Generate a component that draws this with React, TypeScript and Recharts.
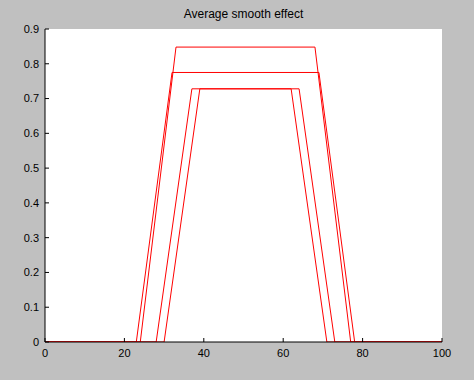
import React from "react";
import { LineChart, Line, XAxis, YAxis, CartesianGrid } from "recharts";

// corner points of each smoothed pulse (x, value)
const s1X = [0, 24, 33, 68, 77, 100];
const s1Y = [0, 0, 0.848, 0.848, 0, 0];
const s2X = [0, 23, 32, 69, 78, 100];
const s2Y = [0, 0, 0.775, 0.775, 0, 0];
const s3X = [0, 28, 37, 62, 71, 100];
const s3Y = [0, 0, 0.728, 0.728, 0, 0];
const s4X = [0, 30, 39, 64, 73, 100];
const s4Y = [0, 0, 0.728, 0.728, 0, 0];

const xTicks = [0, 20, 40, 60, 80, 100];
const yTicks = [0, 0.1, 0.2, 0.3, 0.4, 0.5, 0.6, 0.7, 0.8, 0.9];
const yTickLabels = ["0", "0.1", "0.2", "0.3", "0.4", "0.5", "0.6", "0.7", "0.8", "0.9"];

const title = "Average smooth effect";

const mk = (xs: number[], ys: number[]) => xs.map((x, i) => ({ x, y: ys[i] }));
const series = [mk(s1X, s1Y), mk(s2X, s2Y), mk(s3X, s3Y), mk(s4X, s4Y)];

const FONT = "'Liberation Sans', Arial, Helvetica, sans-serif";

const YTick = (props: any) => {
  const { x, y, payload } = props;
  const idx = yTicks.indexOf(payload.value);
  const label = idx >= 0 ? yTickLabels[idx] : String(payload.value);
  return (
    <g>
      <line x1={x + 6} x2={x + 10} y1={y} y2={y} stroke="#000" strokeWidth={1} />
      <text x={x} y={y} dy="0.35em" textAnchor="end" fontSize={11} fontFamily={FONT} fill="#000">
        {label}
      </text>
    </g>
  );
};

const XTick = (props: any) => {
  const { x, y, payload } = props;
  return (
    <g>
      <line x1={x} x2={x} y1={y - 15} y2={y - 19} stroke="#000" strokeWidth={1} />
      <text x={x} y={y} textAnchor="middle" fontSize={11} fontFamily={FONT} fill="#000">
        {String(payload.value)}
      </text>
    </g>
  );
};

export default function App() {
  return (
    <div style={{ position: "absolute", left: 0, top: 0, width: 474, height: 380, background: "#c0c0c0" }}>
      <div
        style={{
          position: "absolute",
          left: 45,
          width: 397,
          top: 8,
          textAlign: "center",
          fontFamily: FONT,
          fontSize: 12,
          lineHeight: "12px",
          color: "#000",
        }}
      >
        {title}
      </div>
      <LineChart width={474} height={380} margin={{ top: 29, right: 32, left: 0, bottom: 0 }}>
        <CartesianGrid fill="#ffffff" fillOpacity={1} stroke="none" horizontal={false} vertical={false} />
        <XAxis
          type="number"
          dataKey="x"
          domain={[0, 100]}
          ticks={xTicks}
          height={38}
          tickSize={0}
          tickMargin={15}
          tickLine={false}
          axisLine={{ stroke: "#000" }}
          tick={<XTick />}
          allowDataOverflow
        />
        <YAxis
          type="number"
          dataKey="y"
          domain={[0, 0.9]}
          ticks={yTicks}
          width={45}
          tickSize={0}
          tickMargin={6}
          tickLine={false}
          axisLine={{ stroke: "#000" }}
          tick={<YTick />}
          allowDataOverflow
        />
        {series.map((d, i) => (
          <Line
            key={i}
            data={d}
            dataKey="y"
            type="linear"
            stroke="#ff0000"
            strokeWidth={1}
            dot={false}
            activeDot={false}
            isAnimationActive={false}
          />
        ))}
      </LineChart>
    </div>
  );
}
